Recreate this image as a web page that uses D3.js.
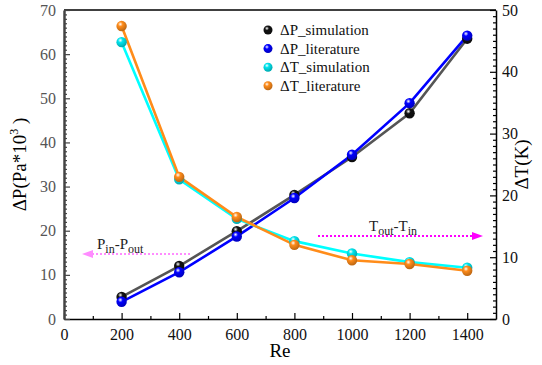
<!DOCTYPE html>
<html>
<head>
<meta charset="utf-8">
<script src="https://cdn.jsdelivr.net/npm/d3@7"></script>
</head>
<body style="margin:0;background:#fff">
<svg id="chart" width="542" height="365" style="font-family:'Times New Roman'"></svg>
<script>
// data
const re = [200, 400, 600, 800, 1000, 1200, 1400];
const dpSimulation = [5.0, 12.0, 19.9, 28.1, 36.7, 46.6, 63.5];
const dpLiterature = [3.9, 10.6, 18.7, 27.4, 37.2, 48.9, 64.2];
const dtSimulation = [44.8, 22.6, 16.2, 12.6, 10.6, 9.2, 8.3];
const dtLiterature = [47.4, 23.0, 16.5, 12.0, 9.5, 8.9, 7.8];
const xTicks = [0, 200, 400, 600, 800, 1000, 1200, 1400];
const leftTicks = [0, 10, 20, 30, 40, 50, 60, 70];
const rightTicks = [0, 10, 20, 30, 40, 50];

const series = [
  { name: "\u0394P_simulation", values: dpSimulation, axis: "left", line: "#555555", fill: "#111111" },
  { name: "\u0394P_literature", values: dpLiterature, axis: "left", line: "#0000ff", fill: "#0000ff" },
  { name: "\u0394T_simulation", values: dtSimulation, axis: "right", line: "#00ffff", fill: "#00e5ee" },
  { name: "\u0394T_literature", values: dtLiterature, axis: "right", line: "#ff8c1a", fill: "#ff8c1a" }
];

const margin = { top: 10, right: 46, bottom: 46, left: 64 };
const width = 542, height = 365;
const FONT = "Times New Roman";
const svg = d3.select("#chart");

const x = d3.scaleLinear().domain([0, 1500]).range([margin.left, width - margin.right]);
const yL = d3.scaleLinear().domain([0, 70]).range([height - margin.bottom, margin.top]);
const yR = d3.scaleLinear().domain([0, 50]).range([height - margin.bottom, margin.top]);

// sphere-like gradients for markers
const defs = svg.append("defs");
series.forEach((s, i) => {
  const g = defs.append("radialGradient")
    .attr("id", "ball" + i)
    .attr("cx", "38%").attr("cy", "32%").attr("r", "65%");
  g.append("stop").attr("offset", "0%").attr("stop-color", "#ffffff");
  g.append("stop").attr("offset", "35%").attr("stop-color", s.fill);
  g.append("stop").attr("offset", "100%").attr("stop-color", d3.color(s.fill).darker(0.8));
});

const plotBottom = height - margin.bottom;
const plotRight = width - margin.right;

// frame
svg.append("line").attr("x1", margin.left).attr("x2", plotRight)
  .attr("y1", margin.top).attr("y2", margin.top)
  .attr("stroke", "#000").attr("stroke-width", 1.5);

// bottom axis
const xAxis = svg.append("g").attr("transform", `translate(0,${plotBottom})`)
  .call(d3.axisBottom(x).tickValues(xTicks).tickSizeInner(-6).tickSizeOuter(0).tickPadding(10).tickFormat(d3.format("d")));
svg.append("g").attr("transform", `translate(0,${plotBottom})`)
  .call(d3.axisBottom(x).tickValues(d3.range(100, 1500, 200)).tickSizeInner(-3).tickSizeOuter(0).tickFormat(""))
  .select(".domain").remove();
xAxis.selectAll("text").attr("font-size", 16).attr("fill", "#111");
xAxis.select(".domain").attr("stroke-width", 1.5);

// left axis
const lAxis = svg.append("g").attr("transform", `translate(${margin.left},0)`)
  .call(d3.axisLeft(yL).tickValues(leftTicks).tickSizeInner(-6).tickSizeOuter(0).tickPadding(8));
svg.append("g").attr("transform", `translate(${margin.left},0)`)
  .call(d3.axisLeft(yL).tickValues(d3.range(0, 71, 1).filter(d => d % 10)).tickSizeInner(-3).tickSizeOuter(0).tickFormat(""))
  .call(g => g.select(".domain").remove())
  .selectAll("line").attr("stroke", "#444");
lAxis.selectAll("text").attr("font-size", 16).attr("fill", "#555");
lAxis.selectAll("line").attr("stroke", "#444");
lAxis.select(".domain").attr("stroke", "#444").attr("stroke-width", 2.5);

// right axis
const rAxis = svg.append("g").attr("transform", `translate(${plotRight},0)`)
  .call(d3.axisRight(yR).tickValues(rightTicks).tickSizeInner(-6).tickSizeOuter(0).tickPadding(6));
svg.append("g").attr("transform", `translate(${plotRight},0)`)
  .call(d3.axisRight(yR).tickValues(d3.range(0, 51, 1).filter(d => d % 10)).tickSizeInner(-3).tickSizeOuter(0).tickFormat(""))
  .select(".domain").remove();
rAxis.selectAll("text").attr("font-size", 16).attr("fill", "#111");
rAxis.select(".domain").attr("stroke-width", 1.5);

svg.selectAll(".tick line").attr("stroke-width", 1.2);
svg.selectAll("g").attr("font-family", null);

// axis titles
svg.append("text").attr("x", x(750)).attr("y", 357).attr("text-anchor", "middle")
  .attr("font-size", 19).text("Re");

const lt = svg.append("text")
  .attr("transform", `translate(26,${yL(35)}) rotate(-90)`)
  .attr("text-anchor", "middle").attr("font-size", 19);
lt.append("tspan").text("\u0394P(Pa*10");
lt.append("tspan").attr("font-size", 12).attr("dy", -8).text("3");
lt.append("tspan").attr("dy", 8).text(" )");

svg.append("text")
  .attr("transform", `translate(528,${yR(25)}) rotate(-90)`)
  .attr("text-anchor", "middle").attr("font-size", 19).text("\u0394T(K)");

// lines
series.forEach(s => {
  const y = s.axis === "left" ? yL : yR;
  const line = d3.line().x((d, i) => x(re[i])).y(d => y(d));
  svg.append("path").datum(s.values)
    .attr("fill", "none").attr("stroke", s.line).attr("stroke-width", 2.6)
    .attr("d", line);
});

// markers
series.forEach((s, i) => {
  const y = s.axis === "left" ? yL : yR;
  svg.append("g").selectAll("circle").data(s.values).join("circle")
    .attr("cx", (d, j) => x(re[j])).attr("cy", d => y(d)).attr("r", 5.2)
    .attr("fill", `url(#ball${i})`);
});

// legend
series.forEach((s, i) => {
  const ly = 30 + i * 18.6;
  svg.append("circle").attr("cx", 268).attr("cy", ly).attr("r", 4.5).attr("fill", `url(#ball${i})`);
  svg.append("text").attr("x", 280).attr("y", ly + 5).attr("font-size", 15).attr("fill", "#111").text(s.name);
});

// annotations with dotted arrows
const ann = [
  { text: ["P", "in", "-P", "out"], tx: 97, ty: 249, from: 190, to: 82, ay: 254, color: "#ff8cff" },
  { text: ["T", "out", "-T", "in"], tx: 369, ty: 231, from: 318, to: 483, ay: 236, color: "#ff00ff" }
];
ann.forEach(a => {
  const t = svg.append("text").attr("x", a.tx).attr("y", a.ty).attr("font-size", 15).attr("fill", "#222");
  a.text.forEach((part, k) => {
    const sub = k % 2 === 1;
    t.append("tspan").attr("font-size", sub ? 12 : 15).attr("dy", sub ? 4 : (k ? -4 : 0)).text(part);
  });
  const dir = a.to > a.from ? 1 : -1;
  svg.append("line").attr("x1", a.from).attr("x2", a.to - dir * 8)
    .attr("y1", a.ay).attr("y2", a.ay)
    .attr("stroke", a.color).attr("stroke-width", 2).attr("stroke-dasharray", "2,2");
  svg.append("path")
    .attr("d", `M${a.to},${a.ay} L${a.to - dir * 11},${a.ay - 4} L${a.to - dir * 11},${a.ay + 4} Z`)
    .attr("fill", a.color);
});

// serif font on every text and tspan
svg.selectAll("text, tspan").style("font-family", `"${FONT}"`);
</script>
</body>
</html>
